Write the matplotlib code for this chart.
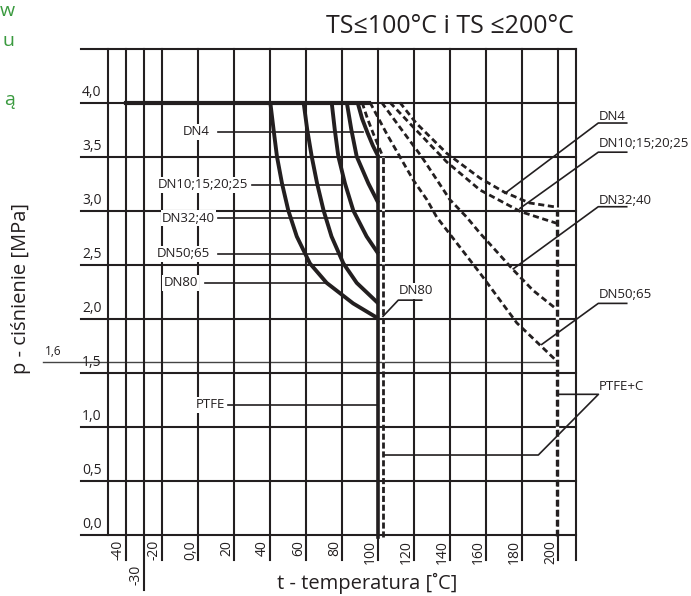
import matplotlib.pyplot as plt

plt.rcParams['font.family'] = ['Open Sans', 'DejaVu Sans']

INK = '#231f20'

# grid (temperature in degC, pressure in MPa)
t_grid = [-50, -40, -30, -20, 0, 20, 40, 60, 80, 100, 120, 140, 160, 180, 200, 210]
t_ticks = [-40, -30, -20, 0, 20, 40, 60, 80, 100, 120, 140, 160, 180, 200]
t_labels = ['-40', '-30', '-20', '0,0', '20', '40', '60', '80', '100', '120', '140', '160', '180', '200']
p_grid = [0.0, 0.5, 1.0, 1.5, 2.0, 2.5, 3.0, 3.5, 4.0, 4.5]
p_ticks = [0.0, 0.5, 1.0, 1.5, 2.0, 2.5, 3.0, 3.5, 4.0]
p_labels = ['0,0', '0,5', '1,0', '1,5', '2,0', '2,5', '3,0', '3,5', '4,0']

# TS <= 100 C (solid)
dn80_t = [40, 41.8, 43.7, 46.5, 50, 54.7, 62, 71.3, 86, 100]
dn80_p = [4.0, 3.75, 3.5, 3.25, 3.0, 2.76, 2.51, 2.33, 2.14, 2.0]
dn50_t = [58.5, 60.5, 63, 66, 69.6, 74, 80.6, 88, 100]
dn50_p = [4.0, 3.75, 3.5, 3.25, 3.0, 2.76, 2.51, 2.33, 2.14]
dn32_t = [74.1, 75.8, 77.8, 81.5, 86.1, 93.5, 100]
dn32_p = [4.0, 3.75, 3.5, 3.25, 3.0, 2.76, 2.6]
dn10_t = [82.5, 85, 88, 94.5, 100]
dn10_p = [4.0, 3.75, 3.5, 3.25, 3.07]
dn4_t = [88.5, 91, 94, 97, 100]
dn4_p = [4.0, 3.85, 3.72, 3.6, 3.5]

# TS <= 200 C (dashed)
dn4d_t = [91, 94, 97.5, 102.5]
dn4d_p = [4.0, 3.85, 3.7, 3.5]
dn4b_t = [112, 121, 138, 156.5, 170, 184, 199.5]
dn4b_p = [4.0, 3.81, 3.53, 3.30, 3.17, 3.07, 3.03]
dn10b_t = [106.5, 119, 138, 156.5, 170, 179, 190, 199.5]
dn10b_p = [4.0, 3.78, 3.45, 3.19, 3.07, 2.99, 2.93, 2.88]
dn32b_t = [101.9, 112, 124, 139.8, 149, 156.5, 175, 186, 199.5]
dn32b_p = [4.0, 3.77, 3.5, 3.1, 2.94, 2.79, 2.45, 2.26, 2.08]
dn50b_t = [95.4, 105, 119.5, 127, 132.4, 156.5, 176.9, 199.5]
dn50b_p = [4.0, 3.7, 3.28, 3.10, 2.94, 2.42, 1.96, 1.6]

fig = plt.figure(figsize=(6.91, 5.96), dpi=100)
ax = fig.add_axes([0, 0, 1, 1])
ax.set_xlim(-110.17, 273.72)
ax.set_ylim(-0.5694, 4.9491)
ax.axis('off')

# grid
for p in p_grid:
    ax.plot([-65.3, 210], [p, p], color=INK, lw=1.5, zorder=1)
ax.plot([-86.3, 199.5], [1.6, 1.6], color='#444444', lw=1.0, zorder=1)
for t in t_grid:
    bottom = 0 if t == -50 else (-0.51 if t == -30 else -0.236)
    ax.plot([t, t], [bottom, 4.5], color=INK, lw=1.5, zorder=1)

for t, lab in zip(t_ticks, t_labels):
    y = -0.282 if t == -30 else -0.05
    ax.text(t - 4.4, y, lab, rotation=90, ha='center', va='top', fontsize=10, color=INK)
for p, lab in zip(p_ticks, p_labels):
    ax.text(-64.6, p + 0.025, lab, ha='left', va='bottom', fontsize=10, color=INK)
ax.text(-85.5, 1.63, '1,6', ha='left', va='bottom', fontsize=8.5, color=INK)

# thick line at 4.0 and 100 C limit
ax.plot([-40, 95], [4.0, 4.0], color=INK, lw=3, zorder=3)
ax.plot([99.6, 99.6], [-0.02, 3.5], color=INK, lw=2.6, zorder=3)

for ts, ps in [(dn80_t, dn80_p), (dn50_t, dn50_p), (dn32_t, dn32_p),
               (dn10_t, dn10_p), (dn4_t, dn4_p)]:
    ax.plot(ts, ps, color=INK, lw=2.8, zorder=3, solid_capstyle='butt')

for ts, ps in [(dn4d_t, dn4d_p), (dn4b_t, dn4b_p), (dn10b_t, dn10b_p),
               (dn32b_t, dn32b_p), (dn50b_t, dn50b_p)]:
    ax.plot(ts, ps, color=INK, lw=2.0, dashes=(2.2, 1.3), zorder=3)

# dashed limits
ax.plot([102.6, 102.6], [-0.02, 3.5], color=INK, lw=2.0, dashes=(2.2, 1),
        gapcolor='white', zorder=3)
ax.plot([199.5, 199.5], [-0.01, 3.03], color=INK, lw=2.4, dashes=(2, 1),
        gapcolor='white', zorder=3)

# left labels
box = dict(facecolor='white', edgecolor='none', pad=1.0)
left_labels = [('DN4', 6.5, 3.73, 11.1, 91.7),
               ('DN10;15;20;25', 27.8, 3.24, 29.7, 79.7),
               ('DN32;40', 9.3, 2.93, 11.1, 79.7),
               ('DN50;65', 6.5, 2.60, 11.1, 79.7),
               ('DN80', -0.3, 2.33, 3.7, 71.3),
               ('PTFE', 14.8, 1.20, 16.7, 99.3)]
for lab, tx, py, l0, l1 in left_labels:
    ax.text(tx, py, lab, ha='right', va='center', fontsize=9.5, color=INK,
            bbox=box, zorder=5)
    ax.plot([l0, l1], [py, py], color=INK, lw=1.2, zorder=2)

# right labels
right_labels = [('DN4', 3.875, 3.81, 170.4, 3.16),
                ('DN10;15;20;25', 3.62, 3.54, 178.7, 3.02),
                ('DN32;40', 3.097, 3.035, 175.0, 2.46),
                ('DN50;65', 2.218, 2.14, 190.8, 1.76)]
for lab, py, uy, ex, ey in right_labels:
    ax.text(222.3, py, lab, ha='left', va='center', fontsize=9.5, color=INK, zorder=5)
    ax.plot([238, 222.2, ex], [uy, uy, ey], color=INK, lw=1.2, zorder=4)

ax.text(222.3, 1.366, 'PTFE+C', ha='left', va='center', fontsize=9.5, color=INK, zorder=5)
ax.plot([199.5, 222.3, 188.9, 103.2], [1.298, 1.298, 0.736, 0.736], color=INK, lw=1.2, zorder=4)

ax.text(111.1, 2.255, 'DN80', ha='left', va='center', fontsize=9.5, color=INK,
        bbox=box, zorder=5)
ax.plot([124.1, 111.1, 102.6], [2.17, 2.17, 2.02], color=INK, lw=1.2, zorder=4)

# titles
ax.text(139.8, 4.708, 'TS≤100°C i TS ≤200°C', ha='center', va='center', fontsize=18, color=INK)
ax.text(93.8, -0.449, 't - temperatura [˚C]', ha='center', va='center', fontsize=14.5, color=INK)
ax.text(-98.5, 2.282, 'p - ciśnienie [MPa]', ha='center', va='center', rotation=90,
        fontsize=14.5, color=INK)

# cut-off text from the neighbouring column
green = '#3a9a3f'
for s, py in [('w', 4.85), ('u', 4.57), ('ą', 4.02)]:
    ax.text(-102.0, py, s, ha='right', va='center', fontsize=14, color=green)

plt.savefig('out.png', dpi=100)
plt.close('all')
